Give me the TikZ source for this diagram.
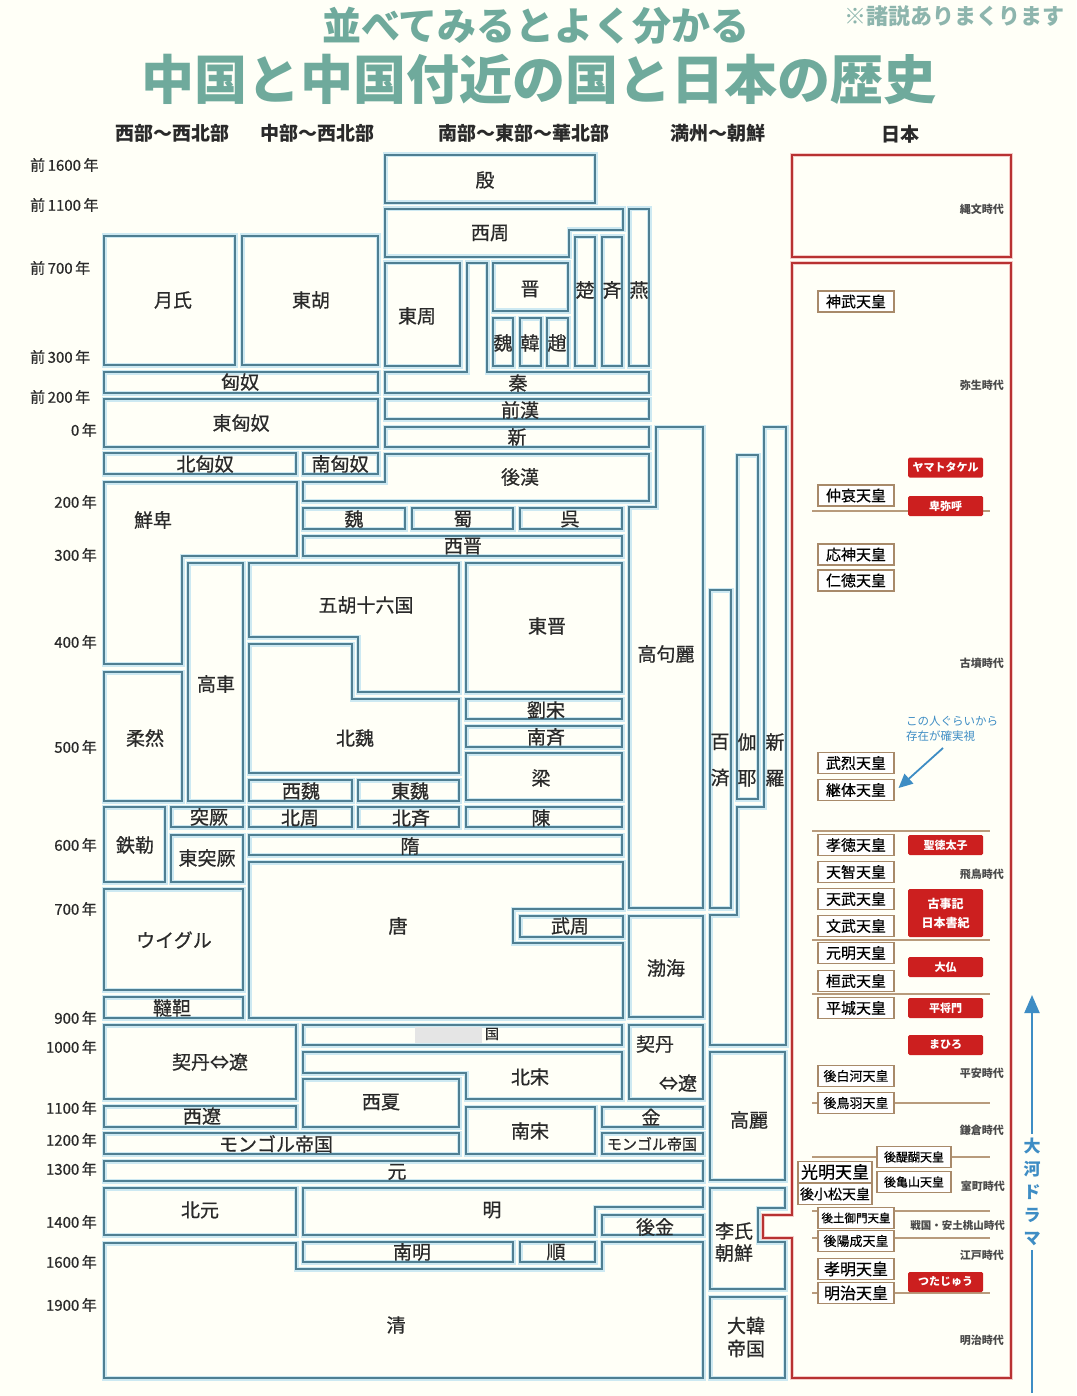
\documentclass[tikz,border=0pt]{standalone}
\usepackage{fontspec}
\setmainfont{Noto Sans CJK JP}
\newfontfamily\medfont[FakeBold=0.6]{Noto Sans CJK JP}
\usetikzlibrary{arrows.meta}
\definecolor{boxline}{HTML}{4F7F92}
\definecolor{boxhalo}{HTML}{CDE9F2}
\definecolor{titlec}{HTML}{6FAA9C}
\definecolor{notec}{HTML}{8DB5AD}
\definecolor{jred}{HTML}{B83232}
\definecolor{jhalo}{HTML}{F4CCC8}
\definecolor{redfill}{HTML}{CC1F1F}
\definecolor{empline}{HTML}{A88A6A}
\definecolor{eraline}{HTML}{B89B7C}
\definecolor{bluec}{HTML}{3E8DC4}
\definecolor{txt}{HTML}{2A2A2A}
\tikzset{
 cbox/.style={draw=boxline, line width=1.6pt, line join=miter, preaction={draw=boxhalo, line width=5pt}},
 lbl/.style={font=\medfont\fontsize{19}{22}\selectfont, text=txt, inner sep=0pt},
 vlbl/.style={font=\medfont\fontsize{19}{36}\selectfont, text=txt, inner sep=0pt, align=center},
 yrw/.style={font=\medfont\fontsize{15}{16}\selectfont, text=txt, anchor=west, inner sep=0pt},
 yre/.style={font=\medfont\fontsize{15}{16}\selectfont, text=txt, anchor=east, inner sep=0pt},
 hdr/.style={font=\fontsize{19}{20}\selectfont\bfseries, text=txt, inner sep=0pt},
 emp/.style={draw=empline, line width=1.1pt, fill=white, minimum width=76pt, minimum height=21pt, inner sep=0pt, font=\medfont\fontsize{15}{16}\selectfont, text=black},
 redb/.style={fill=redfill, text=white, minimum width=75pt, minimum height=20pt, inner sep=0pt, rounded corners=1.5pt, font=\fontsize{11}{14}\selectfont\bfseries, align=center},
 era/.style={font=\fontsize{11}{12}\selectfont\bfseries, text=txt!85, anchor=east, inner sep=0pt},
 eraln/.style={draw=eraline, line width=1.2pt},
 jborder/.style={draw=jred, line width=1.6pt, preaction={draw=jhalo, line width=4pt}},
}
\begin{document}
\begin{tikzpicture}[x=1pt,y=-1pt]
\useasboundingbox (0,0) rectangle (1076,1396);
\fill[white!97!yellow] (0,0) rectangle (1076,1396);

% ---------- titles ----------
\node[font=\fontsize{39}{40}\selectfont\bfseries, text=titlec] (t1) at (536,26) {並べてみるとよく分かる};
\node[font=\fontsize{53}{56}\selectfont\bfseries, text=titlec] (t2) at (539,79) {中国と中国付近の国と日本の歴史};
\node[font=\fontsize{22}{24}\selectfont\bfseries, text=notec] (t3) at (954,16) {※諸説ありまくります};

\node[hdr] (h1) at (172,133) {西部～西北部};
\node[hdr] (h2) at (317,133) {中部～西北部};
\node[hdr] (h3) at (524,133) {南部～東部～華北部};
\node[hdr] (h4) at (718,133) {満州～朝鮮};
\node[hdr] (h5) at (900,134) {日本};

% ---------- years ----------
\node[yrw] (y1) at (30,165) {前\,1600\,年};
\node[yrw] (y2) at (30,205) {前\,1100\,年};
\node[yrw] (y3) at (30,268) {前\,700\,年};
\node[yrw] (y4) at (30,357) {前\,300\,年};
\node[yrw] (y5) at (30,397) {前\,200\,年};
\node[yre] (y6) at (97,430) {0\,年};
\node[yre] (y7) at (97,502) {200\,年};
\node[yre] (y8) at (97,555) {300\,年};
\node[yre] (y9) at (97,642) {400\,年};
\node[yre] (y10) at (97,747) {500\,年};
\node[yre] (y11) at (97,845) {600\,年};
\node[yre] (y12) at (97,909) {700\,年};
\node[yre] (y13) at (97,1018) {900\,年};
\node[yre] (y14) at (97,1047) {1000\,年};
\node[yre] (y15) at (97,1108) {1100\,年};
\node[yre] (y16) at (97,1140) {1200\,年};
\node[yre] (y17) at (97,1169) {1300\,年};
\node[yre] (y18) at (97,1222) {1400\,年};
\node[yre] (y19) at (97,1262) {1600\,年};
\node[yre] (y20) at (97,1305) {1900\,年};

% ---------- China / neighbours boxes ----------
\draw[cbox] (385,155) rectangle (595,203);
\draw[cbox] (385,209)--(623,209)--(623,230)--(569,230)--(569,257)--(385,257)--cycle;
\draw[cbox] (629,209) rectangle (649,366);
\draw[cbox] (575,237) rectangle (595,366);
\draw[cbox] (602,237) rectangle (622,366);
\draw[cbox] (385,263) rectangle (460,366);
\draw[cbox] (385,372)--(467,372)--(467,263)--(487,263)--(487,372)--(649,372)--(649,393)--(385,393)--cycle;
\draw[cbox] (493,263) rectangle (568,311);
\draw[cbox] (493,318) rectangle (513,366);
\draw[cbox] (520,318) rectangle (541,366);
\draw[cbox] (547,318) rectangle (568,366);
\draw[cbox] (104,236) rectangle (235,365);
\draw[cbox] (242,236) rectangle (378,365);
\draw[cbox] (104,372) rectangle (378,393);
\draw[cbox] (104,399) rectangle (378,447);
\draw[cbox] (385,399) rectangle (649,419);
\draw[cbox] (385,427) rectangle (649,447);
\draw[cbox] (104,453) rectangle (296,474);
\draw[cbox] (303,453) rectangle (378,474);
\draw[cbox] (385,454)--(649,454)--(649,501)--(303,501)--(303,482)--(385,482)--cycle;
\draw[cbox] (656,427)--(703,427)--(703,908)--(629,908)--(629,507)--(656,507)--cycle;
\draw[cbox] (737,455) rectangle (758,799);
\draw[cbox] (764,427)--(786,427)--(786,1045)--(710,1045)--(710,915)--(737,915)--(737,807)--(764,807)--cycle;
\draw[cbox] (710,590) rectangle (731,908);
\draw[cbox] (104,482)--(297,482)--(297,556)--(182,556)--(182,664)--(104,664)--cycle;
\draw[cbox] (303,508) rectangle (405,529);
\draw[cbox] (412,508) rectangle (513,529);
\draw[cbox] (520,508) rectangle (622,529);
\draw[cbox] (303,536) rectangle (622,556);
\draw[cbox] (188,563) rectangle (243,801);
\draw[cbox] (249,563)--(459,563)--(459,692)--(358,692)--(358,637)--(249,637)--cycle;
\draw[cbox] (466,563) rectangle (622,692);
\draw[cbox] (249,644)--(352,644)--(352,699)--(459,699)--(459,773)--(249,773)--cycle;
\draw[cbox] (104,672) rectangle (182,801);
\draw[cbox] (466,699) rectangle (622,719);
\draw[cbox] (466,726) rectangle (622,747);
\draw[cbox] (466,753) rectangle (622,800);
\draw[cbox] (249,780) rectangle (352,801);
\draw[cbox] (358,780) rectangle (459,801);
\draw[cbox] (171,807) rectangle (243,827);
\draw[cbox] (249,807) rectangle (352,827);
\draw[cbox] (358,807) rectangle (459,827);
\draw[cbox] (466,807) rectangle (622,827);
\draw[cbox] (104,807) rectangle (165,882);
\draw[cbox] (171,835) rectangle (243,882);
\draw[cbox] (249,835) rectangle (622,855);
\draw[cbox] (249,862)--(623,862)--(623,909)--(513,909)--(513,943)--(623,943)--(623,1018)--(249,1018)--cycle;
\draw[cbox] (520,916) rectangle (623,937);
\draw[cbox] (104,889) rectangle (243,990);
\draw[cbox] (104,997) rectangle (243,1018);
\draw[cbox] (629,916) rectangle (703,1017);
\draw[cbox] (104,1025) rectangle (296,1099);
\draw[cbox] (303,1025) rectangle (622,1045);
\fill[gray!20] (415,1027) rectangle (482,1043);
\draw[cbox] (629,1025) rectangle (703,1099);
\draw[cbox] (303,1052)--(622,1052)--(622,1099)--(466,1099)--(466,1073)--(303,1073)--cycle;
\draw[cbox] (303,1079) rectangle (459,1127);
\draw[cbox] (104,1106) rectangle (296,1127);
\draw[cbox] (466,1107) rectangle (595,1154);
\draw[cbox] (602,1107) rectangle (703,1127);
\draw[cbox] (104,1133) rectangle (459,1154);
\draw[cbox] (602,1133) rectangle (703,1154);
\draw[cbox] (710,1052) rectangle (785,1180);
\draw[cbox] (104,1161) rectangle (703,1181);
\draw[cbox] (104,1188) rectangle (296,1235);
\draw[cbox] (303,1188)--(703,1188)--(703,1207)--(595,1207)--(595,1235)--(303,1235)--cycle;
\draw[cbox] (602,1215) rectangle (703,1235);
\draw[cbox] (710,1188)--(785,1188)--(785,1208)--(758,1208)--(758,1242)--(785,1242)--(785,1289)--(710,1289)--cycle;
\draw[cbox] (303,1242) rectangle (513,1262);
\draw[cbox] (520,1242) rectangle (595,1262);
\draw[cbox] (104,1243)--(296,1243)--(296,1269)--(602,1269)--(602,1242)--(703,1242)--(703,1378)--(104,1378)--cycle;
\draw[cbox] (710,1297) rectangle (785,1378);

% ---------- China labels ----------
\node[lbl] (yin) at (485,180) {殷};
\node[lbl] (xizhou) at (490,233) {西周};
\node[lbl] (dongzhou) at (417,316) {東周};
\node[lbl] (jin) at (530,289) {晋};
\node[lbl] (wei1) at (503,343) {魏};
\node[lbl] (han1) at (530,343) {韓};
\node[lbl] (zhao) at (557,343) {趙};
\node[lbl] (chu) at (585,290) {楚};
\node[lbl] (qi1) at (612,290) {斉};
\node[lbl] (yan) at (639,290) {燕};
\node[lbl] (yuezhi) at (173,300) {月氏};
\node[lbl] (donghu) at (311,300) {東胡};
\node[lbl] (xiongnu) at (240,382) {匈奴};
\node[lbl] (qin) at (518,383) {秦};
\node[lbl] (dxn) at (241,423) {東匈奴};
\node[lbl] (qianhan) at (520,410) {前漢};
\node[lbl] (xin) at (517,437) {新};
\node[lbl] (bxn) at (205,464) {北匈奴};
\node[lbl] (nxn) at (340,464) {南匈奴};
\node[lbl] (houhan) at (520,477) {後漢};
\node[lbl] (xianbei) at (153,520) {鮮卑};
\node[lbl] (wei2) at (354,519) {魏};
\node[lbl] (shu) at (463,519) {蜀};
\node[lbl] (wu) at (570,519) {呉};
\node[lbl] (xijin) at (463,546) {西晋};
\node[lbl] (wuhu) at (366,605) {五胡十六国};
\node[lbl] (dongjin) at (547,626) {東晋};
\node[lbl] (goguryeo) at (666,654) {高句麗};
\node[lbl] (gaoche) at (216,684) {高車};
\node[lbl] (rouran) at (145,738) {柔然};
\node[lbl] (beiwei) at (355,738) {北魏};
\node[lbl] (liusong) at (546,710) {劉宋};
\node[lbl] (nanqi) at (546,737) {南斉};
\node[lbl] (liang) at (541,778) {梁};
\node[vlbl] (baekje) at (720,760) {百\\済};
\node[vlbl] (gaya) at (747,760) {伽\\耶};
\node[vlbl] (silla) at (775,760) {新\\羅};
\node[lbl] (xiwei) at (301,791) {西魏};
\node[lbl] (dongwei) at (410,791) {東魏};
\node[lbl] (tujue) at (209,817) {突厥};
\node[lbl] (beizhou) at (300,818) {北周};
\node[lbl] (beiqi) at (411,818) {北斉};
\node[lbl] (chen) at (541,818) {陳};
\node[lbl] (tiele) at (135,845) {鉄勒};
\node[lbl] (sui) at (410,846) {隋};
\node[lbl] (dtj) at (207,858) {東突厥};
\node[lbl] (tang) at (398,926) {唐};
\node[lbl] (wuzhou) at (570,926) {武周};
\node[lbl] (uighur) at (174,940) {ウイグル};
\node[lbl] (bohai) at (666,968) {渤海};
\node[lbl] (dada) at (172,1008) {韃靼};
\node[lbl] (qidan1) at (210,1062) {契丹⇔遼};
\node[lbl, font=\medfont\fontsize{14}{16}\selectfont] (guo) at (492,1034) {国};
\node[lbl] (qidan2) at (655,1044) {契丹};
\node[lbl] (liao2) at (678,1083) {⇔遼};
\node[lbl] (beisong) at (530,1077) {北宋};
\node[lbl] (xixia) at (381,1102) {西夏};
\node[lbl] (xiliao) at (202,1116) {西遼};
\node[lbl] (jin2) at (651,1117) {金};
\node[lbl] (nansong) at (530,1131) {南宋};
\node[lbl] (goryeo) at (749,1120) {高麗};
\node[lbl] (mongol1) at (276,1144) {モンゴル帝国};
\node[lbl, font=\medfont\fontsize{15}{16}\selectfont] (mongol2) at (652,1144) {モンゴル帝国};
\node[lbl] (yuan) at (397,1172) {元};
\node[lbl] (beiyuan) at (200,1210) {北元};
\node[lbl] (ming) at (492,1210) {明};
\node[lbl] (houjin) at (655,1227) {後金};
\node[lbl, align=left, font=\medfont\fontsize{19}{22}\selectfont] (joseon) at (734,1242) {李氏\\朝鮮};
\node[lbl] (nanming) at (412,1252) {南明};
\node[lbl] (shun) at (556,1252) {順};
\node[lbl] (qing) at (396,1325) {清};
\node[lbl, align=center, font=\medfont\fontsize{19}{23}\selectfont] (daehan) at (746,1337) {大韓\\帝国};

% ---------- Japan ----------
\draw[jborder] (792,155) rectangle (1011,257);
\draw[jborder] (792,263)--(1011,263)--(1011,1378)--(792,1378)--(792,1238)--(763,1238)--(763,1215)--(792,1215)--cycle;

\foreach \yy in {511,831,940,994,1103,1157,1211,1238,1293}
  \draw[eraln] (812,\yy) -- (990,\yy);

\node[era] (e1) at (1004,209) {縄文時代};
\node[era] (e2) at (1004,385) {弥生時代};
\node[era] (e3) at (1004,663) {古墳時代};
\node[era] (e4) at (1004,874) {飛鳥時代};
\node[era] (e5) at (1004,1073) {平安時代};
\node[era] (e6) at (1004,1130) {鎌倉時代};
\node[era] (e7) at (1005,1186) {室町時代};
\node[era, font=\fontsize{10.5}{12}\selectfont\bfseries] (e8) at (1005,1226) {戦国・安土桃山時代};
\node[era] (e9) at (1004,1255) {江戸時代};
\node[era] (e10) at (1004,1340) {明治時代};

\node[emp] (jimmu) at (856,301.5) {神武天皇};
\node[emp] (chuai) at (856,495.5) {仲哀天皇};
\node[emp] (ojin) at (856,554.5) {応神天皇};
\node[emp] (nintoku) at (856,580.5) {仁徳天皇};
\node[emp] (buretsu) at (856,763) {武烈天皇};
\node[emp] (keitai) at (856,790) {継体天皇};
\node[emp] (kotoku) at (856,845) {孝徳天皇};
\node[emp] (tenji) at (856,872) {天智天皇};
\node[emp] (tenmu) at (856,899) {天武天皇};
\node[emp] (monmu) at (856,926) {文武天皇};
\node[emp] (genmei) at (856,953) {元明天皇};
\node[emp] (kanmu) at (856,981) {桓武天皇};
\node[emp] (heizei) at (856,1008) {平城天皇};
\node[emp, font=\medfont\fontsize{13}{14}\selectfont] (goshirakawa) at (856,1076) {後白河天皇};
\node[emp, font=\medfont\fontsize{13}{14}\selectfont] (gotoba) at (856,1103) {後鳥羽天皇};
\node[emp, font=\medfont\fontsize{12}{14}\selectfont, minimum width=74pt] (godaigo) at (914,1157) {後醍醐天皇};
\node[emp, font=\medfont\fontsize{17}{18}\selectfont, minimum width=74pt] (komyo) at (835,1172) {光明天皇};
\node[emp, font=\medfont\fontsize{12}{14}\selectfont, minimum width=74pt] (gokameyama) at (914,1182) {後亀山天皇};
\node[emp, font=\medfont\fontsize{14}{15}\selectfont, minimum width=74pt] (gokomatsu) at (835,1194) {後小松天皇};
\node[emp, font=\medfont\fontsize{11.5}{14}\selectfont] (gotsuchimikado) at (856,1218) {後土御門天皇};
\node[emp, font=\medfont\fontsize{13}{14}\selectfont] (goyozei) at (856,1241) {後陽成天皇};
\node[emp, font=\medfont\fontsize{16}{17}\selectfont] (komei) at (856,1269) {孝明天皇};
\node[emp, font=\medfont\fontsize{16}{17}\selectfont] (meiji) at (856,1293) {明治天皇};

\node[redb] (yamato) at (945.5,467.5) {ヤマトタケル};
\node[redb] (himiko) at (945.5,506) {卑弥呼};
\node[redb] (shotoku) at (945.5,845) {聖徳太子};
\node[redb, minimum height=48pt, font=\fontsize{12}{19}\selectfont\bfseries] (kojiki) at (945.5,913) {古事記\\日本書紀};
\node[redb] (daibutsu) at (945.5,967) {大仏};
\node[redb] (masakado) at (945.5,1008) {平将門};
\node[redb] (mahiro) at (945.5,1045) {まひろ};
\node[redb] (tsutaju) at (945.5,1282) {つたじゅう};

\node[font=\fontsize{11.5}{15}\selectfont, text=bluec, align=left, anchor=west, inner sep=0pt] (note) at (906,729) {この人ぐらいから\\存在が確実視};
\coordinate (noteS) at (943,748);
\draw[bluec, line width=1.8pt, -{Triangle[length=14pt,width=13pt]}] (noteS) -- ([xshift=4pt,yshift=2pt]keitai.east);

\node[font=\fontsize{17}{23}\selectfont\bfseries, text=bluec, align=center, inner sep=4pt] (taiga) at (1032,1192) {大\\河\\ド\\ラ\\マ};
\coordinate (taigaTop) at (1032,995);
\coordinate (taigaBot) at (1032,1393);
\draw[bluec, line width=2pt, -{Triangle[length=18pt,width=15pt]}] (taiga.north) -- (taigaTop);
\draw[bluec, line width=2pt] (taiga.south) -- (taigaBot);
\end{tikzpicture}
\end{document}
